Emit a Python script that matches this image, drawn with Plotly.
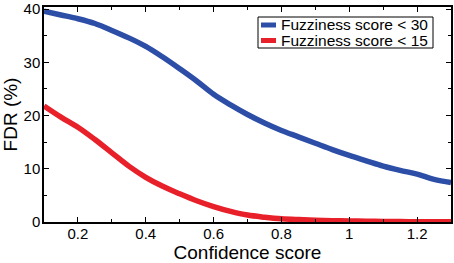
import plotly.graph_objects as go

conf = [0.10, 0.15, 0.20, 0.25, 0.30, 0.35, 0.40, 0.45, 0.50, 0.55, 0.60, 0.65, 0.70,
        0.75, 0.80, 0.85, 0.90, 0.95, 1.00, 1.05, 1.10, 1.15, 1.20, 1.25, 1.30]
fdr_fuzz30 = [39.6, 38.9, 38.2, 37.3, 36.0, 34.6, 33.0, 31.0, 28.8, 26.5, 24.0, 22.0, 20.2,
              18.6, 17.2, 16.0, 14.8, 13.6, 12.5, 11.5, 10.5, 9.7, 9.0, 8.0, 7.4]
fdr_fuzz15 = [21.8, 19.7, 17.8, 15.5, 13.0, 10.5, 8.4, 6.7, 5.3, 4.0, 2.9, 2.0, 1.3,
              0.9, 0.6, 0.45, 0.35, 0.25, 0.2, 0.15, 0.1, 0.08, 0.06, 0.05, 0.05]
names = ["Fuzziness score < 30", "Fuzziness score < 15"]
colors = ["#2d4ea6", "#e8202a"]

font = "Liberation Sans, Arial, sans-serif"

fig = go.Figure()
for y, n, c in zip([fdr_fuzz30, fdr_fuzz15], names, colors):
    fig.add_trace(go.Scatter(x=conf, y=y, mode="lines", name=n, showlegend=False,
                             line=dict(color=c, width=5.5, shape="spline")))

# manual compact legend box, as in the reference
W, H, L = 407.0, 215.0, 44.0
def px(x): return (x - L) / W
def py(y): return (222.0 - y) / H
fig.add_shape(type="rect", xref="paper", yref="paper",
              x0=px(258), x1=px(433), y0=py(48), y1=py(17),
              line=dict(color="black", width=1), fillcolor="white", layer="above")
for i, (n, c) in enumerate(zip(names, colors)):
    yc = 25 + 15.5 * i
    fig.add_shape(type="line", xref="paper", yref="paper",
                  x0=px(261), x1=px(276), y0=py(yc), y1=py(yc),
                  line=dict(color=c, width=5), layer="above")
    fig.add_annotation(xref="paper", yref="paper", x=px(280), y=py(yc),
                       xanchor="left", yanchor="middle", showarrow=False, text=n,
                       borderpad=0,
                       font=dict(family=font, size=15.5, color="black"))

axis_common = dict(showline=True, linecolor="black", linewidth=1.5, mirror="ticks",
                   ticks="inside", ticklen=5, tickcolor="black", tickwidth=1.2,
                   showgrid=False, zeroline=False,
                   tickfont=dict(family=font, size=15, color="black"))
fig.update_xaxes(range=[0.1, 1.3], dtick=0.2, tick0=0.2, ticklabelstandoff=-3,
                 minor=dict(dtick=0.1, ticks="inside", ticklen=3, tickcolor="black"),
                 title=dict(text="Confidence score", font=dict(family=font, size=19, color="black"),
                            standoff=0),
                 **axis_common)
fig.update_yaxes(range=[0, 40.4], dtick=10, ticklabelstandoff=-1,
                 minor=dict(dtick=5, ticks="inside", ticklen=3, tickcolor="black"),
                 title=dict(text="FDR (%)", font=dict(family=font, size=19, color="black"),
                            standoff=1),
                 **axis_common)
fig.update_layout(width=454, height=263, margin=dict(l=44, r=3, t=7, b=41, autoexpand=False),
                  plot_bgcolor="white", paper_bgcolor="white", showlegend=False)
fig.write_html("out.html", config={"displayModeBar": False},
               post_script="document.body.style.margin='0';")
